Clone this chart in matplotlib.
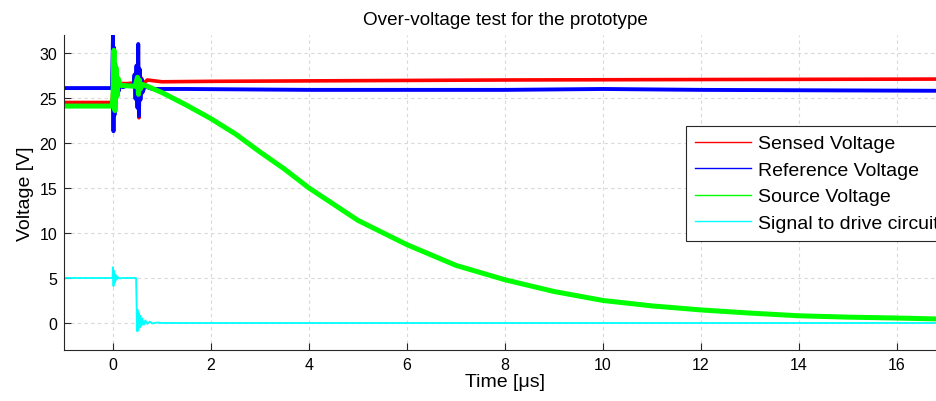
import numpy as np
import matplotlib
matplotlib.use('Agg')
import matplotlib.pyplot as plt

plt.rcParams['font.family'] = ['Liberation Sans', 'DejaVu Sans']

# time axis in microseconds, values in volts (scope capture, hand-read)
t_sensed = [-1.0, -0.02, 0.0, 0.015, 0.03, 0.045, 0.06, 0.08, 0.1, 0.15, 0.3, 0.45, 0.48,
            0.5, 0.515, 0.53, 0.545, 0.56, 0.58, 0.62, 0.7, 1.0, 2.0, 4.0, 8.0, 12.0, 16.8]
v_sensed = [24.5, 24.5, 26.0, 27.6, 25.4, 27.2, 26.0, 26.9, 26.5, 26.6, 26.6, 26.7, 27.4,
            28.2, 29.1, 22.8, 27.8, 25.6, 27.2, 26.6, 27.0, 26.8, 26.85, 26.9, 27.0, 27.05, 27.1]

t_ref = [-1.0, -0.02, 0.0, 0.01, 0.02, 0.03, 0.045, 0.06, 0.075, 0.09, 0.105, 0.12, 0.14,
         0.2, 0.3, 0.42, 0.44, 0.46, 0.48, 0.5, 0.515, 0.53, 0.545, 0.56, 0.58, 0.6,
         0.65, 0.8, 1.5, 4.0, 8.0, 10.0, 12.0, 16.8]
v_ref = [26.1, 26.1, 32.0, 21.3, 30.6, 23.1, 28.8, 24.4, 27.6, 25.3, 27.1, 25.8, 26.6,
         26.2, 26.4, 26.3, 27.6, 24.9, 28.6, 23.9, 31.0, 23.0, 28.2, 24.8, 27.1, 25.6,
         26.3, 26.0, 26.0, 25.9, 25.9, 26.0, 25.9, 25.8]

t_source = [-1.0, -0.02, 0.0, 0.02, 0.04, 0.06, 0.08, 0.1, 0.15, 0.45, 0.5, 0.52, 0.54,
            0.56, 0.6, 0.7, 1.0, 1.5, 2.0, 2.5, 3.0, 3.5, 4.0, 5.0, 6.0, 7.0, 8.0,
            9.0, 10.0, 11.0, 12.0, 13.0, 14.0, 15.0, 16.0, 16.8]
v_source = [24.1, 24.1, 25.0, 30.3, 23.6, 28.4, 25.2, 27.2, 26.4, 26.3, 27.3, 25.4, 27.0,
            26.0, 26.5, 26.3, 25.6, 24.2, 22.7, 21.0, 19.0, 17.1, 15.0, 11.4, 8.7, 6.4, 4.8,
            3.5, 2.5, 1.9, 1.45, 1.1, 0.8, 0.65, 0.55, 0.45]

t_drive = [-1.0, -0.01, 0.0, 0.01, 0.02, 0.035, 0.05, 0.07, 0.09, 0.12, 0.2, 0.47, 0.48,
           0.49, 0.5, 0.515, 0.53, 0.545, 0.56, 0.58, 0.6, 0.63, 0.66, 0.7, 0.75, 0.8,
           0.9, 1.0, 16.8]
v_drive = [5.0, 5.0, 6.2, 4.1, 5.8, 4.5, 5.4, 4.8, 5.15, 4.95, 5.0, 5.0, 2.5,
           -0.9, 1.5, -0.85, 1.1, -0.5, 0.8, -0.3, 0.5, -0.2, 0.3, -0.1, 0.15, -0.05,
           0.05, 0.0, 0.0]

labels = ['Sensed Voltage', 'Reference Voltage', 'Source Voltage', 'Signal to drive circuit']
colors = ['#ff0000', '#0000ff', '#00ff00', '#00ffff']

fig = plt.figure(figsize=(9.37, 4.02), dpi=100)
ax = fig.add_axes([0.0683, 0.1269, 0.9413, 0.7836])

ax.plot(t_sensed, v_sensed, color=colors[0], lw=2.6, label=labels[0])
ax.plot(t_ref, v_ref, color=colors[1], lw=2.8, label=labels[1])
ax.plot(t_source, v_source, color=colors[2], lw=3.6, label=labels[2])
ax.plot(t_drive, v_drive, color=colors[3], lw=1.3, label=labels[3])

ax.set_xlim(-1, 17)
ax.set_ylim(-3, 32)
ax.set_xticks(np.arange(0, 17, 2))
ax.set_yticks(np.arange(0, 31, 5))

ax.grid(True, linestyle=(0, (3, 3)), color='#d9d9d9', linewidth=0.8)
ax.set_axisbelow(True)
for s in ['top', 'right']:
    ax.spines[s].set_visible(False)
for s in ['left', 'bottom']:
    ax.spines[s].set_color('#262626')
ax.tick_params(direction='in', length=5, width=0.8, color='#262626',
               labelsize=11.5, pad=5)

ax.set_title('Over-voltage test for the prototype', fontsize=13.6, pad=8)
ax.set_xlabel('Time [\u03bcs]', fontsize=14, labelpad=1)
ax.set_ylabel('Voltage [V]', fontsize=14, labelpad=4)

leg = ax.legend(loc='upper left', bbox_to_anchor=(0.705, 0.711), borderaxespad=0,
                fontsize=14, fancybox=False, framealpha=1, edgecolor='#262626',
                handlelength=2.9, handletextpad=0.36, labelspacing=0.46, borderpad=0.45)
leg.get_frame().set_linewidth(0.8)
for h in leg.get_lines():
    h.set_linewidth(1.0)

fig.savefig('out.png', dpi=100)
